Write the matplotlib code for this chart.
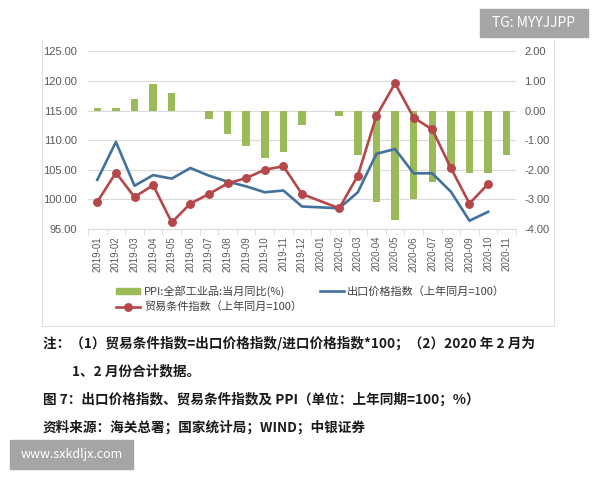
import numpy as np
import matplotlib
matplotlib.use('Agg')
import matplotlib.pyplot as plt
from matplotlib.patches import Rectangle, Patch
from matplotlib.lines import Line2D

plt.rcParams['font.family'] = ['Noto Sans CJK SC', 'DejaVu Sans']

# 月份
months = ['2019-01', '2019-02', '2019-03', '2019-04', '2019-05', '2019-06',
          '2019-07', '2019-08', '2019-09', '2019-10', '2019-11', '2019-12',
          '2020-01', '2020-02', '2020-03', '2020-04', '2020-05', '2020-06',
          '2020-07', '2020-08', '2020-09', '2020-10', '2020-11']
# PPI 当月同比 (%)，右轴
ppi = [0.1, 0.1, 0.4, 0.9, 0.6, 0.0, -0.3, -0.8, -1.2, -1.6, -1.4, -0.5,
       np.nan, -0.2, -1.5, -3.1, -3.7, -3.0, -2.4, -2.0, -2.1, -2.1, -1.5]
# 出口价格指数 (上年同月=100)，左轴
export_price = [103.3, 109.7, 102.3, 104.1, 103.5, 105.3, 104.0, 103.0, 102.2, 101.2,
                101.5, 98.8, np.nan, 98.5, 101.2, 107.7, 108.5, 104.4, 104.4, 101.3,
                96.4, 97.9, np.nan]
# 贸易条件指数 (上年同月=100)，左轴
terms_trade = [99.6, 104.5, 100.4, 102.4, 96.1, 99.3, 100.9, 102.7, 103.6, 105.0,
               105.6, 100.9, np.nan, 98.5, 104.0, 114.1, 119.6, 113.8, 111.8, 105.3,
               99.3, 102.6, np.nan]

left_ticks = [95, 100, 105, 110, 115, 120, 125]
right_ticks = [-4, -3, -2, -1, 0, 1, 2]

GREEN = '#9BBB59'
BLUE = '#41719C'
RED = '#B5474B'
GRID = '#DADADA'
TXT = '#595959'

fig = plt.figure(figsize=(6, 4.8), dpi=100)
W, H = 600, 480

def fx(px):
    return px / W

def fy(py):
    return 1 - py / H

# 图表外框
for (x0, y0, x1, y1) in [(42, 40, 42, 326), (554, 40, 554, 326), (42, 326, 554, 326)]:
    fig.add_artist(Line2D([fx(x0), fx(x1)], [fy(y0), fy(y1)], color='#E0E0E0', lw=0.8))

ax2 = fig.add_axes([fx(88), fy(229), fx(516) - fx(88), fy(51.3) - fy(229)])
ax = ax2.twinx()
ax.yaxis.tick_left()
ax2.yaxis.tick_right()
ax.set_zorder(2)
ax.patch.set_visible(False)

x = np.arange(len(months))

# PPI 柱状图
ppi_arr = np.array(ppi)
m = ~np.isnan(ppi_arr)
ax2.bar(x[m], ppi_arr[m], width=0.4, color=GREEN, zorder=2)
ax2.set_ylim(-4, 2)
ax2.set_yticks(right_ticks)
ax2.set_yticklabels([f'{v:.2f}' for v in right_ticks])
ax2.grid(axis='y', color=GRID, lw=0.8)
ax2.set_axisbelow(True)

# 折线
ep = np.array(export_price)
tt = np.array(terms_trade)
m1 = ~np.isnan(ep)
m2 = ~np.isnan(tt)
ax.plot(x[m1], ep[m1], color=BLUE, lw=1.9)
ax.plot(x[m2], tt[m2], color=RED, lw=1.9, marker='o', markersize=5.4)
ax.set_ylim(95, 125)
ax.set_yticks(left_ticks)
ax.set_yticklabels([f'{v:.2f}' for v in left_ticks])

ax2.set_xlim(-0.5, len(months) - 0.5)
ax2.set_xticks(x)
ax2.set_xticklabels(months, rotation=90, fontsize=7, color=TXT, family='Liberation Sans')
ax2.set_xticks(np.arange(-0.5, len(months), 1), minor=True)
ax2.tick_params(axis='x', which='major', length=0, pad=5)
ax2.tick_params(axis='x', which='minor', length=4, color=GRID)

for a in (ax, ax2):
    for s in a.spines.values():
        s.set_visible(False)
    a.tick_params(axis='y', length=0, labelsize=8, labelcolor=TXT)
    for lab in a.get_yticklabels():
        lab.set_family('Liberation Sans')
ax2.spines['bottom'].set_visible(True)
ax2.spines['bottom'].set_color(GRID)
ax.tick_params(axis='y', pad=8)
ax2.tick_params(axis='y', pad=6)

# 图例
handles = [Patch(color=GREEN),
           Line2D([], [], color=RED, lw=1.9, marker='o', markersize=5.4),
           Line2D([], [], color=BLUE, lw=1.9)]
labels = ['PPI:全部工业品:当月同比(%)', '贸易条件指数（上年同月=100）', '出口价格指数（上年同月=100）']
fig.legend(handles, labels, ncol=2, loc='upper left', bbox_to_anchor=(fx(116), fy(285)),
           frameon=False, fontsize=8, labelcolor='#404040', handlelength=2.2,
           handleheight=0.5, handletextpad=0.3, columnspacing=1.6, labelspacing=0.45,
           borderaxespad=0, borderpad=0)

# 注释文字
note_kw = dict(fontsize=9.8, fontweight='bold', color='#1A1A1A', va='center')
fig.text(fx(43), fy(343), '注：（1）贸易条件指数=出口价格指数/进口价格指数*100；（2）2020 年 2 月为', **note_kw)
fig.text(fx(72), fy(371), '1、2 月份合计数据。', **note_kw)
fig.text(fx(43), fy(399), '图 7：出口价格指数、贸易条件指数及 PPI（单位：上年同期=100；%）', **note_kw)
fig.text(fx(43), fy(427), '资料来源：海关总署；国家统计局；WIND；中银证券', **note_kw)

# 水印
fig.add_artist(Rectangle((fx(480), fy(37)), fx(588) - fx(480), fy(9) - fy(37),
                         color='#A5A5A5', transform=fig.transFigure))
fig.text(fx(534), fy(23), 'TG: MYYJJPP', color='white', fontsize=10, ha='center', va='center')
fig.add_artist(Rectangle((fx(10), fy(469)), fx(133) - fx(10), fy(440) - fy(469),
                         color='#A5A5A5', transform=fig.transFigure))
fig.text(fx(71.5), fy(454.5), 'www.sxkdljx.com', color='white', fontsize=9, ha='center', va='center')

fig.savefig('out.png', dpi=100)
